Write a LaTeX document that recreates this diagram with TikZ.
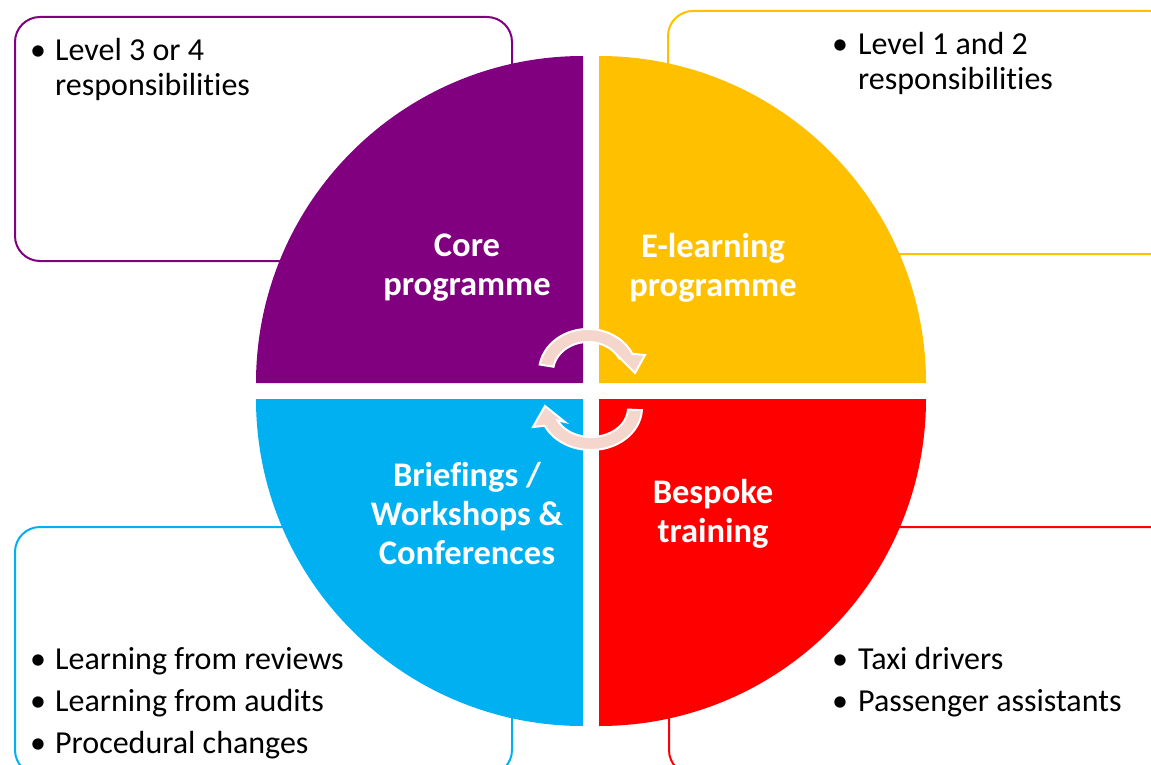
\documentclass[tikz,border=0pt]{standalone}
\usepackage{fontspec}
\setmainfont{Carlito}[Ligatures=NoCommon]
\definecolor{cpurple}{HTML}{800080}
\definecolor{cyellow}{HTML}{FFC000}
\definecolor{cblue}{HTML}{00B0F0}
\definecolor{cred}{HTML}{FF0000}
\definecolor{cpink}{HTML}{F4D6CC}
\begin{document}
\begin{tikzpicture}[x=1pt,y=-1pt,
  infobox/.style={draw, line width=2, rounded corners=25, fill=white},
  bul/.style={anchor=base, inner sep=0pt, font=\fontsize{32}{36}\selectfont},
  btxt/.style={anchor=base west, inner sep=0pt, font=\fontsize{32}{36}\selectfont},
  qlabel/.style={anchor=center, align=center, text=white, inner sep=0pt, font=\bfseries\fontsize{34.5}{39}\selectfont},
  cyc/.style={fill=cpink, draw=white, line width=2, line join=miter}]
\useasboundingbox (0,0) rectangle (1151,765);
\clip (0,0) rectangle (1151,765);
% boxes
\draw[infobox, draw=cpurple] (15,17) rectangle (512,261);
\draw[infobox, draw=cyellow] (668,11) rectangle (1175,254);
\draw[infobox, draw=cblue] (15,527) rectangle (512,775);
\draw[infobox, draw=cred] (669,527) rectangle (1175,775);
% quadrants
\fill[cpurple] (583,383) -- (256,383) arc[start angle=180,end angle=270,radius=327] -- cycle;
\fill[cyellow] (599,383) -- (599,56) arc[start angle=270,end angle=360,radius=327] -- cycle;
\fill[cred] (599,399) -- (926,399) arc[start angle=0,end angle=90,radius=327] -- cycle;
\fill[cblue] (583,399) -- (583,726) arc[start angle=90,end angle=180,radius=327] -- cycle;
% cycle arrows
\draw[cyc] (539.7,364.5) arc[start angle=190,end angle=335,x radius=49,y radius=43]
  -- (645,355) -- (635,373) -- (617,355) -- (619.7,359.3)
  arc[start angle=335,end angle=190,x radius=35,y radius=30] -- cycle;
\draw[cyc] (641.9,410.2) arc[start angle=3,end angle=155,x radius=51,y radius=42]
  -- (533,427) -- (545,406) -- (565,422) -- (557.5,420.3)
  arc[start angle=155,end angle=3,x radius=37,y radius=29] -- cycle;
% quadrant labels
\node[qlabel] (core) at (467,268) {Core\\programme};
\node[qlabel] (elearn) at (713,268) {E-learning\\programme};
\node[qlabel] (brief) at (467,514) {Briefings /\\Workshops \&\\Conferences};
\node[qlabel] (bespoke) at (713,514) {Bespoke\\training};
% bullets top left
\node[bul] (tlb1) at (38,61) {•};
\node[btxt] (tl1) at (55,61) {Level 3 or 4};
\node[btxt] (tl2) at (55,96) {responsibilities};
% bullets top right
\node[bul] (trb1) at (840,55) {•};
\node[btxt] (tr1) at (858,55) {Level 1 and 2};
\node[btxt] (tr2) at (858,90) {responsibilities};
% bullets bottom left
\node[bul] (blb1) at (38,669) {•};
\node[btxt] (bl1) at (55,669) {Learning from reviews};
\node[bul] (blb2) at (38,711) {•};
\node[btxt] (bl2) at (55,711) {Learning from audits};
\node[bul] (blb3) at (38,753) {•};
\node[btxt] (bl3) at (55,753) {Procedural changes};
% bullets bottom right
\node[bul] (brb1) at (840,669) {•};
\node[btxt] (br1) at (858,669) {Taxi drivers};
\node[bul] (brb2) at (840,711) {•};
\node[btxt] (br2) at (858,711) {Passenger assistants};
\end{tikzpicture}
\end{document}
